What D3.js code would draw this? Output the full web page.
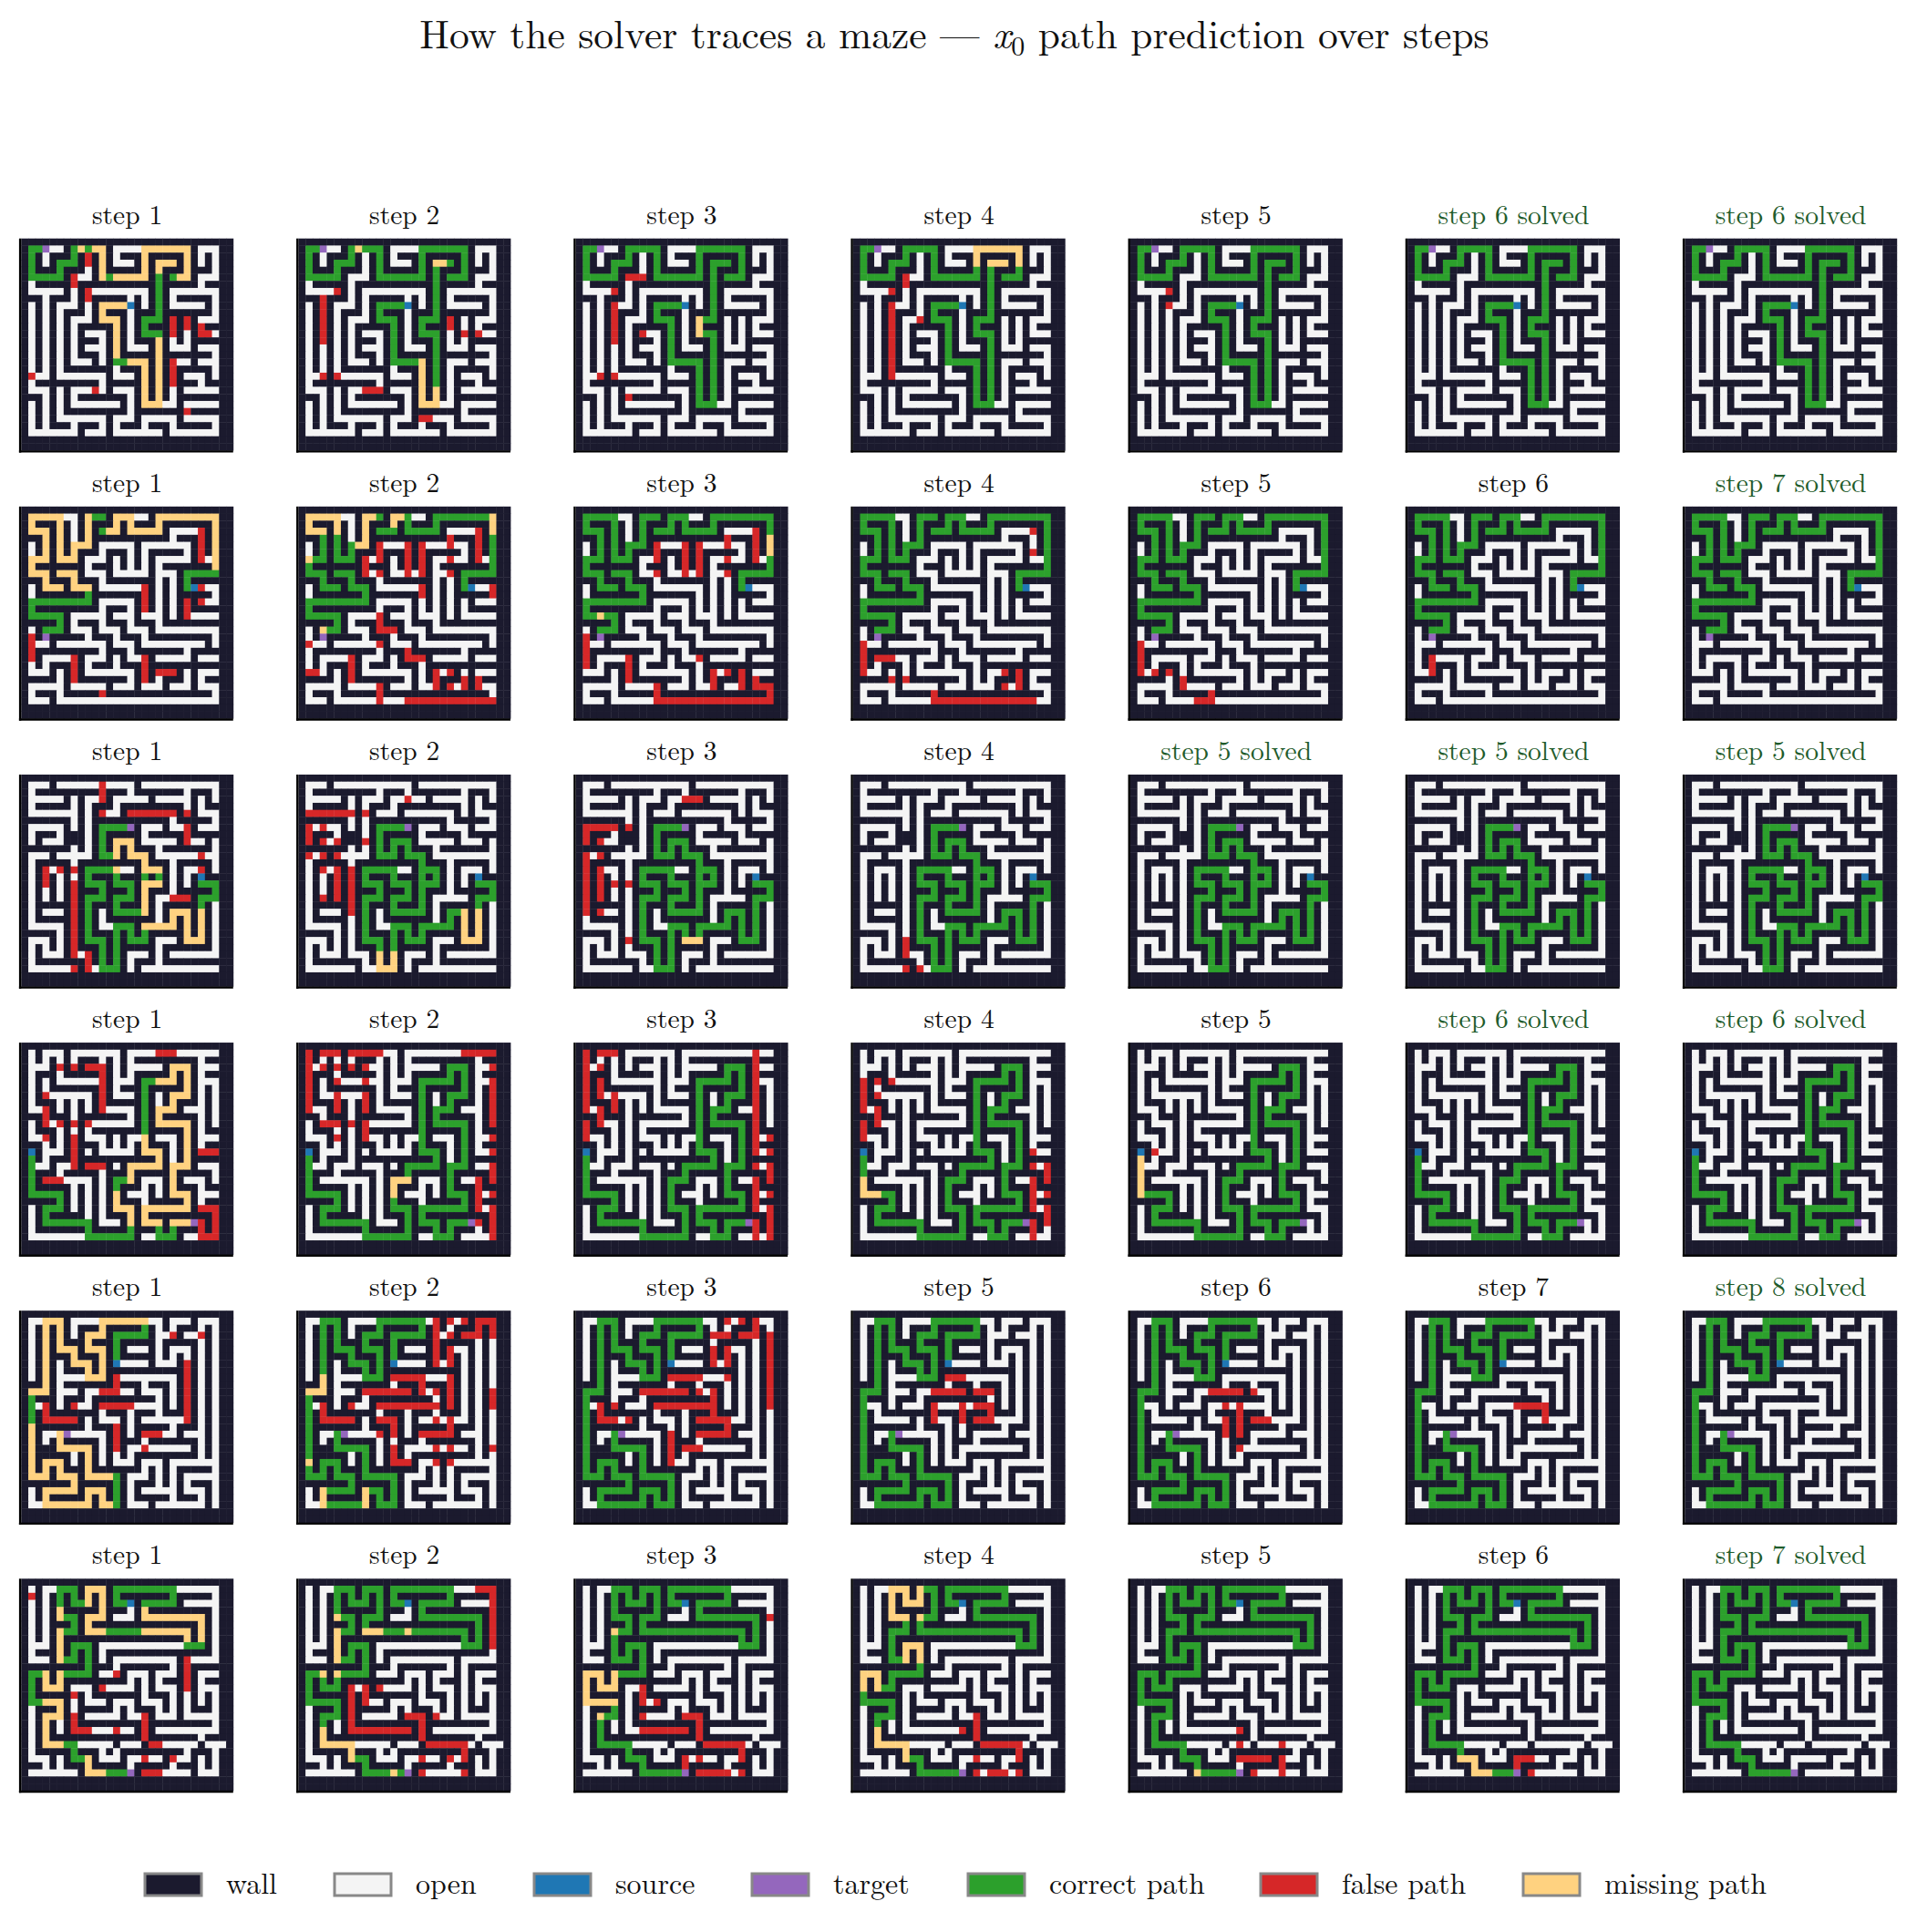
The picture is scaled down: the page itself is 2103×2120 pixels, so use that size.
<!DOCTYPE html>
<html><head><meta charset="utf-8">
<script src="https://cdn.jsdelivr.net/npm/d3@7"></script>
<style>body{margin:0;background:#fff}svg{display:block}</style>
</head><body>
<script>
// ---------- DATA ----------
const mazeA=["#############################","#GGT..#GGGGG#....GGGGGGG#...#","#G#.###G#.#G#.###G#####G#.#.#","#G#.#GGG#.#G#...#G#GGG#G#.#.#","#G###G###.#G#####G#G###G###.#","#GGGGG#...#GGGGGGG#G#GGG#...#","#.#####.###########G#####.###","#.....#.#.........#G#.......#","###.###.#.#####.#.#G#.#####.#","#.#.#...#.#GGGGS#.#G#.....#.#","#.#.#.###.#G###.###G#######.#","#.#.#.#...#GGG#.#GGG#.#.#...#","#.#.#.#.#####G#.#G###.#.#.###","#.#.#.#.#...#G#.#GGG#.#.#...#","#.#.#.#.###.#G#.###G#.#.#####","#.#.#.#.#...#G#...#G#...#...#","#.#.#.#.###.#G#####G#######.#","#.#.#.#...#.#GGGGG#G#...#...#","#.#.#.#######.###G#G#.#####.#","#...#.......#...#G#G#.#...#.#","#.#########.#####G#G#.###.###","#...#.#.....#...#G#G#.#.....#","###.#.#.#######.#G#G#.#######","#.#.#.#.......#.#GGG..#.....#","#.#.#.#########.#######.#####","#.#.#.......#...#.....#.....#","#.#.###.###.#.###.###.#####.#","#.......#...#.......#.......#","#############################"];
const mazeB=["#############################","#GGGGG..#GGG#GGG..#GGGGGGGGG#","#G###G#.#G###G#G###G#######G#","#GGG#G#.#G#GGG#GGGGG#.....#G#","###G#G#.#G###########.###.#G#","#.#G#G#GGG#.....#.......#.#G#","#.#G#G#G###.###.#.#####.#.#G#","#GGG#GGG#...#.#.#.#.....#..G#","#G#######.###.#.#.#.#######G#","#GGG#GGG#...#.....#...#GGGGG#","###G###G###.#######.#.#G#####","#.#GGG#GGG#.......#.#.#GS...#","#.#######G#######.#.#.#####.#","#GGGGGGGGG#.....#.#.#.#.#...#","#G#########.###.#.#.#.#.#####","#GGGGG#.....#...#...#.#.....#","#####G#.###.###.###.#########","#.#GGG#...#...#...#.........#","#.#T#####.###.###.#########.#","#...#.......#...#.........#.#","#.#########.###.#######.#####","#.#.....#...#.#...#.....#...#","#.#.###.#.###.###.###########","#...#.#.#.......#.#...#.#...#","#####.#.#######.#.#.###.#.###","#.....#.....#...#...#...#...#","#.###.#####.###############.#","#...#.......................#","#############################"];
const mazeC=["#############################","#...#...........#...........#","#.#########.###.#######.###.#","#.....#.#...#.....#.....#.#.#","#.#####.#.###.#########.#.###","#.......#.#...#.......#.#...#","#######.#.###########.#####.#","#.....#.#.#GGGGT#...#...#...#","#.###.###.#G#####.#####.#####","#.#...###.#G#GGG#.....#...#.#","#######.#.#G#G#G###.#######.#","#...#.....#GGG#GGG#.........#","#.#####.#########G###.#####.#","#.#...#.#GGGGG..#GGG#.#...#.#","#.#.#.#.#G###G###G#G#.#.#S###","#.#.#.#.#GGG#GGG#GGG#.#.#GGG#","#.#.#.#.###G###G#G###.#####G#","#.#.#.#.#GGG#GGG#G#.....#GGG#","#.#####.#G###G###G#.#####G#.#","#.#...#.#G#.#GGGGG#.#GGG#G#.#","#.#####.#G#.#######.#G#G#G#.#","#.....#.#G#..GGG#GGGGG#G#G#.#","#####.#.#G###G#G#G#####G#G#.#","#...#.#.#GGG#G#GGG#...#GGG#.#","#.#.#.#.###G#G#####.#######.#","#.#...#...#G#G#...#.#.......#","#.#######.#G#G#.###.#########","#.......#..GGG#.#...........#","#############################"];
const mazeD=["#############################","#.#...#.......#.............#","#.#.#.#.###.#.#.#########.###","#...#.#.#...#.#.....#GGG#...#","#.###.#####.#.#.#####G#G#.###","#.#.#.......#...#GGGGG#G#...#","#.#.#######.#.###G#####G#.#.#","#.#.......#.#...#G#.#GGG#.#.#","#.###.#.#.#.#####G#.#G###.#.#","#...#.#.#.#.....#G#GGG#...#.#","###.###.#######.#G#G#####.#.#","#.#...#.#.......#G#GGGGG#.#.#","#.###.#.#.#######G#####G#.###","#...#.#.#...#.#..G#...#G#...#","###.#.#.###.#.#.#G###.#G#.###","#S#...#.#.#.....#GGG#.#G#...#","#G#.###.###########G#.#G#####","#G..#...#...#.#GGGGG#GGG#...#","#G###.#####.###G#####G#####.#","#G#.......#.#GGG#...#G#...#.#","#G#####.#.#.#G###.#.#G###.###","#GGGGG#.#.#.#G#...#.#GGG#...#","#####G#.#.#.#G###.#####G#.###","#.#GGG#.#.#.#GGG#GGGGGGG#...#","#.#G#####.#.###G#G#########.#","#.#GGGGGGG#...#G#GGG#GGGT.#.#","#.#######G#####G###G#G###.#.#","#........GGGGGGG#..GGG#.....#","#############################"];
const mazeE=["#############################","#..GGG#....GGGGGGG..#...#...#","#.#G#G#.###G#####G#.#.###.#.#","#.#G#G#.#GGG#GGGGG#...#...#.#","#.#G#G###G###G#####.#####.#.#","#.#G#GGG#GGG#G#...#.#...#.#.#","#.#G###G###G#G#####.#.#.#.#.#","#.#G#.#GGG#G#S....#...#.#.#.#","#.#G#.###G#G###########.#.#.#","#.#G#....GGG#.........#.#.#.#","###G#.#######.###.###.#.#.#.#","#GGG#...#.......#...#.#.#.#.#","#G###.###.#########.#.#.#.#.#","#G..#.#...#.........#.#.#.#.#","#G#.#######.###.###.###.#.#.#","#G#.....#.#...#.#.......#.#.#","#G#######.###.#.#####.###.#.#","#G#..GT.....#.#.#.....#...#.#","#G#.#G#####.#.###.#######.#.#","#G###GGGGG#.#.#.........#.#.#","#G#####.#G#.#.#.#########.#.#","#G#GGG#.#G#.#...#...#.......#","#G#G#G###G#######.#.#.#####.#","#GGG#GGG#GGGGG#...#.#.#.....#","#######G#####G#.###.#.#.###.#","#.#GGGGG#GGG#G#.#.....#...#.#","#.#G#####G#G#G#.#####.###.#.#","#..GGGGGGG#GGG#...#.......#.#","#############################"];
const mazeF=["#############################","#.#..GGG#GGG#GGGGGGGGG......#","#.#.#G#G#G#G#G#######G#####.#","#.#.#G#GGG#G#GGS#GGGGG#.....#","#.#.#G#####G###.#G#########.#","#.#.#GGG#GGG#...#GGGGGGGGG#.#","#.#.###G#G###############G#.#","#.#.#GGG#GGGGGGGGGGGGGGG#G#.#","#.#.#G#################G#G#.#","#...#G#GGG#............GGG#.#","#.###G#G#G#.###############.#","#...#GGG#G#.#.........#.....#","#########G###.#######.#.#####","#GGG#GGGGG#...#...#...#.#...#","#G#G#G#########.#.#.###.#.###","#G#GGG#...#.....#.#...#.#...#","#G#####.#.#######.###.#.#.#.#","#GGGGG#.#...#...#...#.#.#.#.#","#.###G#.#####.#.###.#.#.###.#","#.#GGG#.#.....#...#...#.....#","#.#G#.#.#########.#########.#","#.#G#.#.........#.#.........#","#.#G#############.#######.###","#.#GGGGG.....#...#.......#...#","#.#####G###.#.#########.###.#","#...#.#GGG#...#.....#...#.#.#","###.#.###G#####.#####.###.#.#","#.......#GGGGGGT#.......#...#","#############################"];
const mazes=[mazeA,mazeB,mazeC,mazeD,mazeE,mazeF];

const titles=[
 ["step 1","step 2","step 3","step 4","step 5","step 6 solved","step 6 solved"],
 ["step 1","step 2","step 3","step 4","step 5","step 6","step 7 solved"],
 ["step 1","step 2","step 3","step 4","step 5 solved","step 5 solved","step 5 solved"],
 ["step 1","step 2","step 3","step 4","step 5","step 6 solved","step 6 solved"],
 ["step 1","step 2","step 3","step 5","step 6","step 7","step 8 solved"],
 ["step 1","step 2","step 3","step 4","step 5","step 6","step 7 solved"]];

// missing-path regions [r0,c0,r1,c1] per panel
const missing=[
 [[[1,8,1,8],[1,10,5,11],[5,13,5,18],[1,17,4,23],[5,22,5,23],[3,19,3,20],[9,11,10,14],[11,11,16,13],[17,15,17,18],[17,17,23,19],[14,19,22,19]],
  [[17,17,23,17],[21,17,23,19],[3,19,3,20],[1,8,1,8]],[[11,17,15,17]],[[1,17,3,23]],[],[],[]],
 [[[1,1,11,9],[1,12,3,27],[4,27,8,27]],
  [[1,1,3,5],[1,8,8,10],[1,12,2,14],[1,27,3,27],[5,1,7,1],[17,2,17,3]],[[4,27,6,27],[15,3,15,3]],[],[],[],[]],
 [[[9,13,13,19],[15,17,21,23],[19,21,23,25]],[[19,23,23,25],[25,11,27,13]],[[23,15,25,17]],[],[],[],[]],
 [[[1,19,13,25],[13,15,21,23],[21,13,25,23]],[[19,13,21,15]],[],[[19,1,21,3]],[[16,1,21,1]],[],[]],
 [[[1,1,11,11],[1,11,1,17],[16,1,27,12]],[[9,1,11,3],[21,1,21,1],[24,3,27,3],[24,9,27,9]],[],[],[],[],[]],
 [[[4,3,27,5],[1,9,8,11],[4,17,8,25],[25,9,27,11]],[[5,3,13,5],[7,9,7,11],[7,15,7,15],[21,1,27,7],[27,13,27,13]],
  [[7,3,7,5],[13,1,17,5],[19,1,19,3],[27,5,27,7]],[[1,5,5,9],[13,1,15,3],[21,3,27,7],[9,7,11,9]],[[23,1,25,1],[27,5,27,9]],[[25,7,27,11]],[]]];

// false-path regions [r0,c0,r1,c1] per panel
const falsePath=[
 [[[2,9,3,9],[4,7,6,7],[6,9,8,9],[6,11,6,11],[11,21,11,23],[11,21,13,21],[12,23,12,23],[12,25,13,26],[17,21,20,21],[19,1,19,1],[21,10,21,10],[22,13,22,13],[24,23,24,23]],
  [[4,5,8,5],[8,3,14,3],[6,13,6,15],[11,21,12,22],[19,3,19,5],[21,9,21,12],[22,13,22,13],[25,16,25,18],[13,23,13,25]],
  [[4,5,14,5],[5,7,5,9],[19,3,19,5],[22,7,22,9],[13,9,13,9]],
  [[3,5,16,5],[3,7,6,7],[11,9,11,9],[17,5,19,5]],[[3,5,9,5],[3,7,3,8]],[],[]],
 [[[3,25,8,25],[10,12,10,17],[11,17,14,17],[10,23,10,27],[11,25,14,25],[16,20,16,22],[18,1,21,1],[20,3,20,7],[20,7,24,7],[22,19,23,21],[21,17,24,17],[26,11,26,11],[13,23,15,23]],
  [[4,11,4,15],[4,11,9,11],[4,15,9,15],[4,17,4,21],[4,17,9,17],[4,21,9,21],[2,21,2,25],[2,25,7,25],[6,9,9,9],[10,12,10,14],[11,17,12,17],[10,27,12,27],[15,11,19,11],[17,12,17,13],[19,1,19,1],[20,3,20,7],[20,7,24,7],[24,7,24,11],[24,11,27,11],[27,15,27,27],[22,19,26,19],[22,21,26,21],[22,23,22,25],[24,23,26,25],[23,1,23,2],[20,15,21,17]],
  [[4,11,4,15],[4,11,9,11],[4,15,9,15],[4,17,4,21],[4,17,9,17],[4,21,9,21],[2,21,2,25],[2,25,7,25],[6,9,6,9],[18,1,22,1],[20,3,20,7],[20,7,24,7],[24,7,24,11],[24,11,27,11],[27,11,27,27],[22,23,22,25],[22,23,26,23],[24,25,26,27],[21,17,21,17],[23,19,25,19],[23,21,24,21]],
  [[19,1,24,1],[21,3,21,5],[24,3,24,7],[26,7,26,11],[27,11,27,25],[22,21,26,21],[22,23,26,23],[2,25,3,26],[6,25,6,27]],
  [[19,1,23,1],[23,3,23,5],[24,7,25,7],[26,9,27,11]],[[21,3,23,3]],[]],
 [[[1,11,10,11],[5,15,5,23],[5,23,9,23],[12,3,15,3],[13,5,13,7],[15,7,27,7],[21,7,21,9],[17,21,19,23],[11,25,13,25],[25,9,27,9]],
  [[5,1,5,9],[5,1,11,1],[7,3,13,3],[9,5,9,9],[11,5,17,5],[13,7,19,7],[17,3,17,5],[21,9,23,9],[3,15,3,15]],
  [[7,1,7,7],[7,1,19,1],[9,3,19,3],[15,5,15,7],[23,7,23,9],[3,15,3,17]],
  [[23,7,27,7],[27,9,27,9]],[],[],[]],
 [[[3,5,3,11],[3,11,9,11],[7,3,13,3],[11,5,11,9],[13,7,17,7],[17,9,17,11],[19,3,21,5],[23,25,27,27],[25,19,27,19],[1,19,1,21],[15,25,15,27]],
  [[1,1,1,11],[1,1,9,1],[3,3,3,9],[3,9,13,9],[5,5,9,5],[11,3,11,7],[13,5,13,5],[1,23,1,27],[1,27,27,27],[19,25,25,25],[21,3,21,3],[25,3,25,9]],
  [[1,1,1,5],[1,1,13,1],[3,3,11,3],[7,5,9,5],[1,25,27,25],[13,27,27,27],[27,19,27,21]],
  [[5,1,5,5],[5,1,13,1],[7,3,11,3],[15,25,27,25],[17,27,25,27]],[[15,3,15,3]],[],[]],
 [[[8,13,8,17],[8,13,11,13],[11,11,11,13],[13,3,15,3],[15,3,15,7],[13,7,15,7],[13,11,13,15],[16,13,19,13],[17,17,17,19],[7,23,15,23],[3,21,3,21],[3,25,3,25],[19,17,19,17]],
  [[1,19,1,21],[1,19,7,19],[1,23,3,27],[3,21,7,21],[3,21,3,23],[5,21,21,21],[1,27,3,27],[11,27,13,27],[19,27,19,27],[9,13,9,17],[9,17,13,17],[11,9,11,15],[13,11,13,19],[13,7,15,7],[13,3,15,3],[15,3,15,7],[15,11,17,13],[15,19,21,19],[17,17,17,21],[19,13,21,13],[21,13,21,15],[11,19,11,19]],
  [[1,21,1,21],[3,19,3,21],[1,23,3,25],[3,21,9,21],[5,19,7,19],[3,27,13,27],[9,13,9,17],[11,9,11,17],[13,11,13,19],[11,19,17,19],[15,17,17,21],[13,3,15,5],[15,7,15,7],[17,13,21,13],[19,15,19,17]],
  [[11,11,11,19],[9,13,9,15],[11,15,15,15],[13,17,15,19],[13,11,15,11]],
  [[11,11,11,17],[13,15,19,15],[13,13,17,13],[15,17,15,19]],[[13,15,13,19],[13,19,15,19]],[]],
 [[[2,1,2,1],[9,23,15,23],[13,13,13,13],[15,11,15,11],[16,7,16,7],[19,7,21,7],[21,7,21,9],[21,13,21,13],[19,17,23,17],[23,17,23,19],[25,17,27,17],[27,17,27,19],[25,21,25,21]],
  [[1,25,1,27],[1,27,9,27],[15,7,21,7],[15,9,17,9],[15,11,15,11],[21,7,21,15],[19,15,21,15],[19,15,19,17],[19,17,27,17],[23,17,23,23],[23,23,27,23],[25,21,25,21],[19,19,19,19]],
  [[15,9,21,9],[21,9,21,15],[19,15,21,15],[19,15,19,17],[19,17,25,17],[23,17,23,23],[23,23,27,23],[27,17,27,21],[5,27,5,27],[17,11,17,11],[25,15,27,15]],
  [[19,17,23,17],[23,17,23,23],[23,23,27,23],[25,17,27,17],[27,19,27,21],[21,15,21,15],[19,3,19,3]],
  [[21,15,25,15],[25,15,25,21],[23,21,27,21],[27,17,27,17]],[[25,15,27,17]],[]]];

const legendLabels=["wall","open","source","target","correct path","false path","missing path"];
const legendKeys=["wall","open","source","target","correct","false","missing"];
const colors={wall:"#1b1a2e",open:"#f4f4f4",source:"#1f77b4",target:"#9467bd",correct:"#2ca02c",false:"#d62728",missing:"#ffd280"};

// ---------- DRAW ----------
const W=2103,H=2120;
const svg=d3.select("body").append("svg").attr("width",W).attr("height",H);
const serif="'Latin Modern Roman','CMU Serif','Liberation Serif','DejaVu Serif',serif";

const t=svg.append("text").attr("x",1047).attr("y",53).attr("text-anchor","middle")
 .attr("font-family",serif).attr("font-size",43.5).attr("fill","#111");
t.append("tspan").text("How the solver traces a maze — ");
t.append("tspan").attr("font-style","italic").text("x");
t.append("tspan").attr("font-size",30).attr("dy",8).text("0");
t.append("tspan").attr("dy",-8).text(" path prediction over steps");

const colX=d3.scaleLinear().domain([0,6]).range([23.3,1848.3]);
const rowY=d3.scaleLinear().domain([0,5]).range([261.7,1732.3]);
const PS=232.5;
const cell=d3.scaleBand().domain(d3.range(30)).range([0,PS]);

function inRects(rects,r,c){return rects.some(q=>r>=q[0]&&r<=q[2]&&c>=q[1]&&c<=q[3]);}

for(let i=0;i<6;i++){
  const mz=mazes[i].map(s=>s+"#"); mz.push("#".repeat(30));
  for(let j=0;j<7;j++){
    const solved=titles[i][j].includes("solved");
    const ms=missing[i][j], fs=falsePath[i][j];
    const cells=[];
    for(let r=0;r<30;r++)for(let c=0;c<30;c++){
      const ch=mz[r][c]; let k;
      if(ch==="#")k="wall";
      else if(ch==="S")k="source";
      else if(ch==="T")k="target";
      else if(ch==="G")k=(!solved&&inRects(ms,r,c))?"missing":"correct";
      else k=(!solved&&inRects(fs,r,c))?"false":"open";
      cells.push({r,c,k});
    }
    const g=svg.append("g").attr("transform",`translate(${colX(j)},${rowY(i)})`);
    g.selectAll("rect").data(cells).join("rect")
     .attr("x",d=>cell(d.c)).attr("y",d=>cell(d.r))
     .attr("width",cell.bandwidth()+0.4).attr("height",cell.bandwidth()+0.4)
     .attr("fill",d=>colors[d.k]);
    g.append("line").attr("x1",-1.2).attr("x2",-1.2).attr("y1",0).attr("y2",PS+2.4).attr("stroke","#000").attr("stroke-width",2.4);
    g.append("line").attr("x1",-2.4).attr("x2",PS).attr("y1",PS+1.2).attr("y2",PS+1.2).attr("stroke","#000").attr("stroke-width",2.4);
    g.append("text").attr("x",PS/2).attr("y",-16).attr("text-anchor","middle")
     .attr("font-family",serif).attr("font-size",29.5).attr("fill",solved?"#1f5c2c":"#111").text(titles[i][j]);
  }
}

// legend
const swX=[159,367,586,825,1062,1383,1671];
const lg=svg.append("g");
legendKeys.forEach((k,idx)=>{
  lg.append("rect").attr("x",swX[idx]).attr("y",2056).attr("width",62).attr("height",24)
   .attr("fill",colors[k]).attr("stroke","#888").attr("stroke-width",3);
  lg.append("text").attr("x",swX[idx]+89).attr("y",2078).attr("font-family",serif)
   .attr("font-size",32).attr("fill","#111").text(legendLabels[idx]);
});
</script>
</body></html>
